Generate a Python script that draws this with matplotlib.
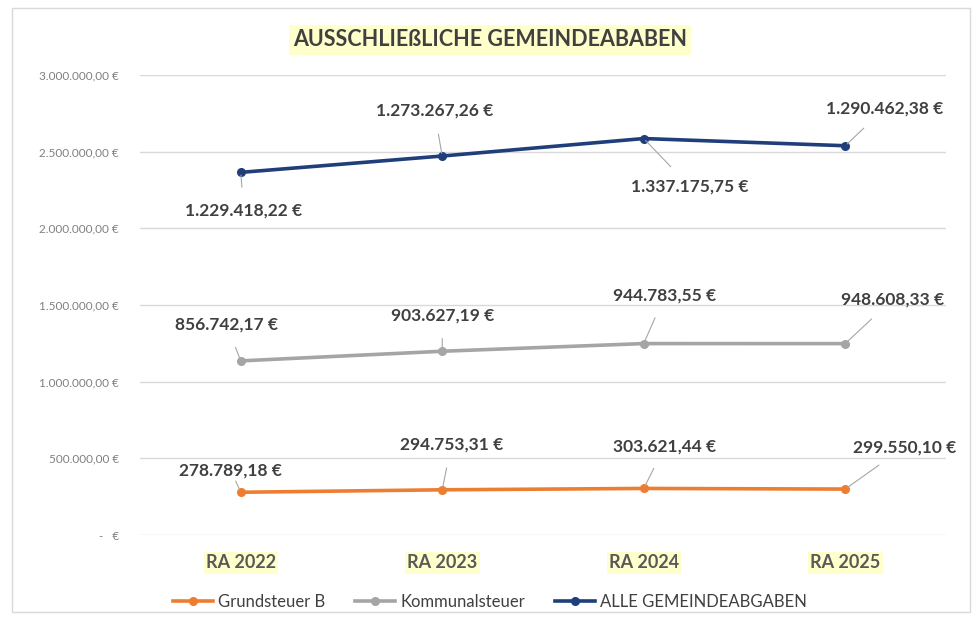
import matplotlib.pyplot as plt
import numpy as np
from matplotlib.patches import Rectangle
from matplotlib.lines import Line2D

plt.rcParams['font.family'] = ['Lato', 'DejaVu Sans']

jahre = ['RA 2022', 'RA 2023', 'RA 2024', 'RA 2025']
grundsteuer = [278789.18, 294753.31, 303621.44, 299550.10]
kommunal = [856742.17, 903627.19, 944783.55, 948608.33]
alle = [1229418.22, 1273267.26, 1337175.75, 1290462.38]

namen = ['Grundsteuer B', 'Kommunalsteuer', 'ALLE GEMEINDEABGABEN']
farben = ['#ED7D31', '#A5A5A5', '#203E7A']

# label offsets in pixels (dx, dy) relative to point
versatz = [
    [(-10, 22), (9, 45), (21, 42), (59, 42)],
    [(-14, 36), (0, 36), (21, 48), (47, 44)],
    [(3, -38), (-8, 45), (46, -48), (39, 37)],
]

def eur(v):
    s = f"{v:,.2f}"
    return s.replace(',', 'X').replace('.', ',').replace('X', '.') + ' €'

fig = plt.figure(figsize=(9.74, 6.2), dpi=100)
fig.patches.append(Rectangle((12/974, 8/620), 958/974, 604/620, transform=fig.transFigure,
                             fill=False, edgecolor='#D9D9D9', lw=1))
ax = fig.add_axes([140/974, 85/620, 806/974, 460/620])

x = np.arange(len(jahre))
reihen = [grundsteuer, kommunal, alle]
gestapelt = np.cumsum(np.array(reihen), axis=0)

for i, werte in enumerate(reihen):
    ax.plot(x, gestapelt[i], color=farben[i], lw=2.6, marker='o', ms=5.5,
            solid_capstyle='round', zorder=3)
    for j, v in enumerate(werte):
        dx, dy = versatz[i][j]
        ax.annotate(eur(v), (x[j], gestapelt[i][j]), xytext=(dx, dy),
                    textcoords='offset pixels', ha='center', va='center',
                    fontsize=12.5, fontweight='bold', color='#404040',
                    arrowprops=dict(arrowstyle='-', color='#A6A6A6', lw=0.8,
                                    shrinkA=9, shrinkB=2))

ax.set_xlim(-0.5, 3.5)
ax.set_ylim(0, 3000000)
ax.set_yticks(np.arange(0, 3000001, 500000))
ax.set_yticklabels(['-   €'] + [eur(v) for v in np.arange(500000, 3000001, 500000)],
                   fontsize=8.5, color='#808080')
ax.yaxis.grid(True, color='#D9D9D9', lw=1)
ax.set_axisbelow(True)
for s in ax.spines.values():
    s.set_visible(False)
ax.tick_params(axis='y', length=0, pad=15)
ax.tick_params(axis='x', length=0, pad=14)
ax.set_xticks(x)
ax.set_xticklabels(jahre, fontsize=13, fontweight='bold', color='#595959')
for t in ax.get_xticklabels():
    t.set_bbox(dict(facecolor='#FFFFCC', edgecolor='none', pad=1.5))

fig.text(490/974, 1 - 40/620, 'AUSSCHLIEßLICHE GEMEINDEABABEN', ha='center', va='center',
         fontsize=15.5, fontweight='bold', color='#404040',
         bbox=dict(facecolor='#FFFFCC', edgecolor='none', pad=3))

griffe = [Line2D([0], [0], color=f, lw=2.6, marker='o', ms=5.5) for f in farben]
fig.legend(griffe, namen, loc='center', bbox_to_anchor=(490/974, 1 - 602/620), ncol=3,
           frameon=False, fontsize=12, handlelength=2.4, columnspacing=1.8,
           handletextpad=0.3, labelcolor='#404040')

fig.savefig('out.png', dpi=100)
